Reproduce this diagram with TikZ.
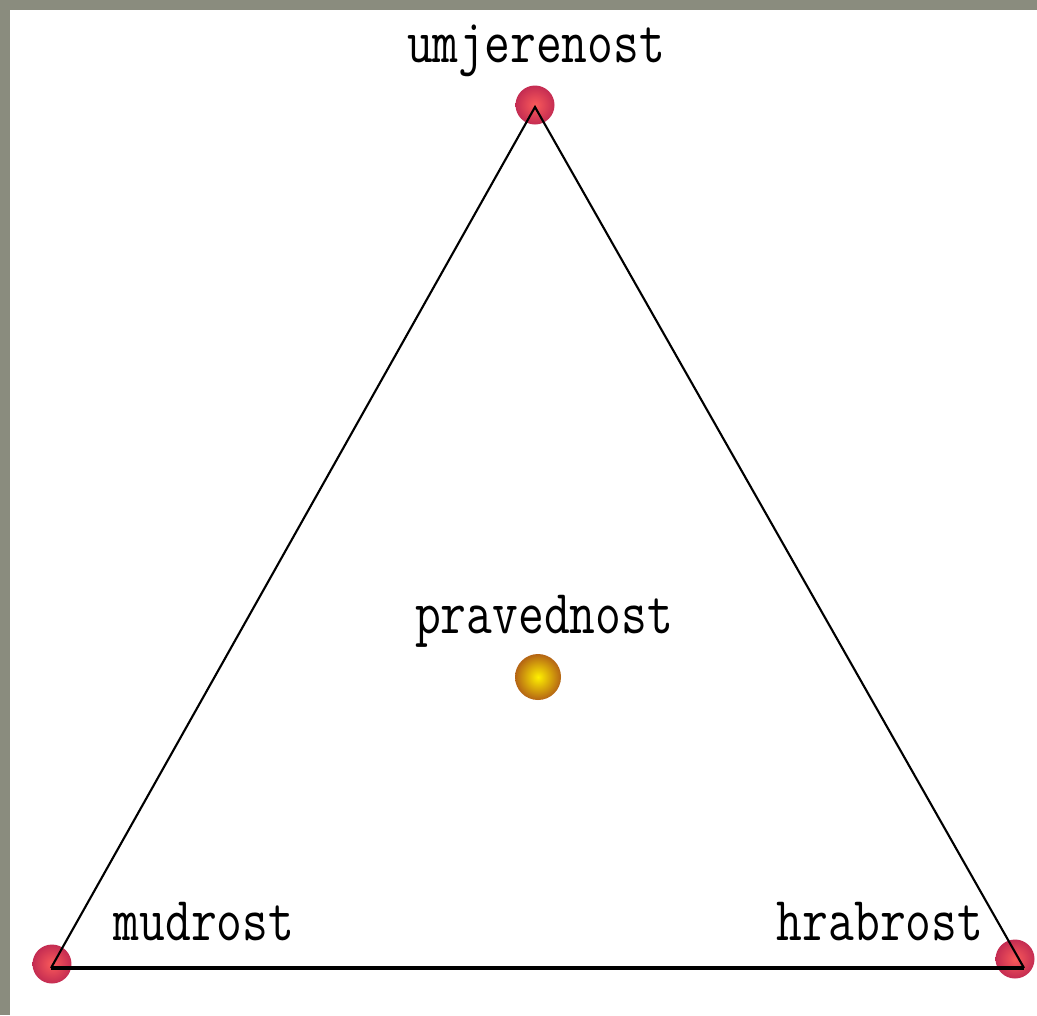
\documentclass[tikz,border=0pt]{standalone}
\usepackage{fontspec}
\usepackage{graphicx}

\definecolor{okvir}{RGB}{138,140,126}
\definecolor{crvenaS}{RGB}{250,90,90}
\definecolor{crvenaR}{RGB}{196,44,82}
\definecolor{zlatnaS}{RGB}{255,240,0}
\definecolor{zlatnaR}{RGB}{180,100,20}

\newcommand{\natpis}[1]{\scalebox{1}[1.25]{\fontsize{28.5}{30}\selectfont\ttfamily #1}}

\begin{document}
\begin{tikzpicture}[x=0.02cm, y=-0.02cm,
    vrh/.style={circle, inner sep=0pt, minimum size=0.78cm, shading=radial,
      inner color=crvenaS, outer color=crvenaR},
    sredina/.style={circle, inner sep=0pt, minimum size=0.92cm, shading=radial,
      inner color=zlatnaS, outer color=zlatnaR},
    tekst/.style={anchor=base, inner sep=0pt}]
            \useasboundingbox (0,0) rectangle (1037,1015);
            \fill[white] (0,0) rectangle (1037,1015);
            \fill[okvir] (0,0) rectangle (1037,10);
            \fill[okvir] (0,0) rectangle (10,1015);

            \coordinate (U) at (535,107);
            \coordinate (M) at (51,968);
            \coordinate (H) at (1024,968);

            \node[vrh] (u) at (535,105) {};
            \node[vrh] (m) at (52,964) {};
            \node[vrh] (h) at (1015,959) {};
            \node[sredina] (p) at (538,677) {};

            \draw[line width=1.2pt] (M) -- (U) -- (H);
            \draw[line width=2.8pt] (M) -- (H);

            \node[tekst] (tu) at (536,62) {\natpis{umjerenost}};
            \node[tekst] (tp) at (544,633) {\natpis{pravednost}};
            \node[tekst] (tm) at (204,940) {\natpis{mudrost}};
            \node[tekst] (th) at (880,940) {\natpis{hrabrost}};
        \end{tikzpicture}
\end{document}
